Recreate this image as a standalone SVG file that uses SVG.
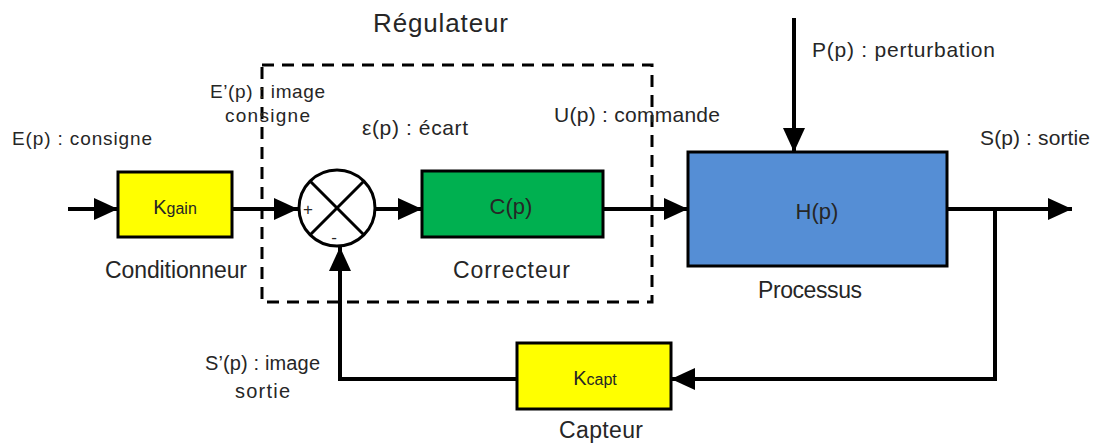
<svg xmlns="http://www.w3.org/2000/svg" width="1099" height="446" viewBox="0 0 1099 446">
  <style>
    .lbl { font-family: "Liberation Sans", Arial, sans-serif; font-size: 20px; fill: #262626; }
    .blkname { font-size: 23px; }
    .blk { stroke: #000; stroke-width: 3; }
    .wire { fill: none; stroke: #000; stroke-width: 4; }
    .dash { fill: none; stroke: #000; stroke-width: 3; stroke-dasharray: 12 8; }
  </style>
  <defs>
    <marker id="arrow" markerUnits="userSpaceOnUse" markerWidth="24" markerHeight="24" viewBox="0 0 24 24" refX="24" refY="12" orient="auto">
      <path d="M0,1 L24,12 L0,23 Z" fill="#000"/>
    </marker>
  </defs>

  <rect width="1099" height="446" fill="#fff"/>

  <!-- controller boundary -->
  <g id="regulateur">
    <rect class="dash" x="262" y="65" width="390" height="237"/>
    <text class="lbl" x="373" y="32" style="font-size:26px" textLength="135" lengthAdjust="spacing">Régulateur</text>
  </g>

  <!-- connectors -->
  <g id="connectors">
    <line class="wire" x1="68" y1="209" x2="118" y2="209" marker-end="url(#arrow)"/>
    <line class="wire" x1="232" y1="209" x2="298" y2="209" marker-end="url(#arrow)"/>
    <line class="wire" x1="376" y1="209" x2="422" y2="209" marker-end="url(#arrow)"/>
    <line class="wire" x1="603" y1="209" x2="688" y2="209" marker-end="url(#arrow)"/>
    <line class="wire" x1="794" y1="18" x2="794" y2="152" marker-end="url(#arrow)"/>
    <line class="wire" x1="947" y1="209" x2="1072" y2="209" marker-end="url(#arrow)"/>
    <polyline class="wire" points="995,209 995,379 671,379" marker-end="url(#arrow)"/>
    <polyline class="wire" points="517,379 340,379 340,247" marker-end="url(#arrow)"/>
  </g>

  <g id="conditionneur">
    <rect class="blk" x="118" y="172" width="114" height="65" fill="#ffff00"/>
    <text class="lbl" x="175" y="214" text-anchor="middle"><tspan font-size="20">K</tspan><tspan font-size="16">gain</tspan></text>
    <text class="lbl blkname" x="105" y="278" textLength="142" lengthAdjust="spacing">Conditionneur</text>
  </g>

  <g id="comparateur">
    <circle cx="337" cy="208" r="38" fill="#fff" stroke="#000" stroke-width="3"/>
    <line x1="310" y1="181" x2="364" y2="235" stroke="#000" stroke-width="3"/>
    <line x1="364" y1="181" x2="310" y2="235" stroke="#000" stroke-width="3"/>
    <text class="lbl" x="308" y="215" text-anchor="middle" style="font-size:17px">+</text>
    <text class="lbl" x="334" y="243" text-anchor="middle" style="font-size:17px">-</text>
  </g>

  <g id="correcteur">
    <rect class="blk" x="422" y="171" width="181" height="66" fill="#00b050"/>
    <text class="lbl" x="511" y="214" text-anchor="middle" style="font-size:22px">C(p)</text>
    <text class="lbl blkname" x="453" y="278" textLength="117" lengthAdjust="spacing">Correcteur</text>
  </g>

  <g id="processus">
    <rect class="blk" x="688" y="152" width="259" height="114" fill="#558ed5"/>
    <text class="lbl" x="817" y="219" text-anchor="middle" style="font-size:22px">H(p)</text>
    <text class="lbl blkname" x="758" y="298" textLength="104" lengthAdjust="spacing">Processus</text>
  </g>

  <g id="capteur">
    <rect class="blk" x="517" y="343" width="154" height="66" fill="#ffff00"/>
    <text class="lbl" x="595" y="385" text-anchor="middle"><tspan font-size="20">K</tspan><tspan font-size="16">capt</tspan></text>
    <text class="lbl blkname" x="559" y="438" textLength="84" lengthAdjust="spacing">Capteur</text>
  </g>

  <!-- signal labels -->
  <g id="signaux">
    <text class="lbl" x="12" y="145" style="font-size:19px" textLength="140" lengthAdjust="spacing">E(p) : consigne</text>
    <text class="lbl" x="210" y="98" style="font-size:19px" textLength="115" lengthAdjust="spacing">E’(p) : image</text>
    <text class="lbl" x="225" y="122" style="font-size:19px" textLength="85" lengthAdjust="spacing">consigne</text>
    <text class="lbl" x="362" y="135" style="font-size:21px" textLength="106" lengthAdjust="spacing">ε(p) : écart</text>
    <text class="lbl" x="554" y="122" style="font-size:21px" textLength="166" lengthAdjust="spacing">U(p) : commande</text>
    <text class="lbl" x="812" y="57" style="font-size:21px" textLength="183" lengthAdjust="spacing">P(p) : perturbation</text>
    <text class="lbl" x="980" y="145" style="font-size:21px" textLength="110" lengthAdjust="spacing">S(p) : sortie</text>
    <text class="lbl" x="205" y="370" style="font-size:20px" textLength="115" lengthAdjust="spacing">S’(p) : image</text>
    <text class="lbl" x="235" y="398" style="font-size:20px" textLength="55" lengthAdjust="spacing">sortie</text>
  </g>
</svg>
